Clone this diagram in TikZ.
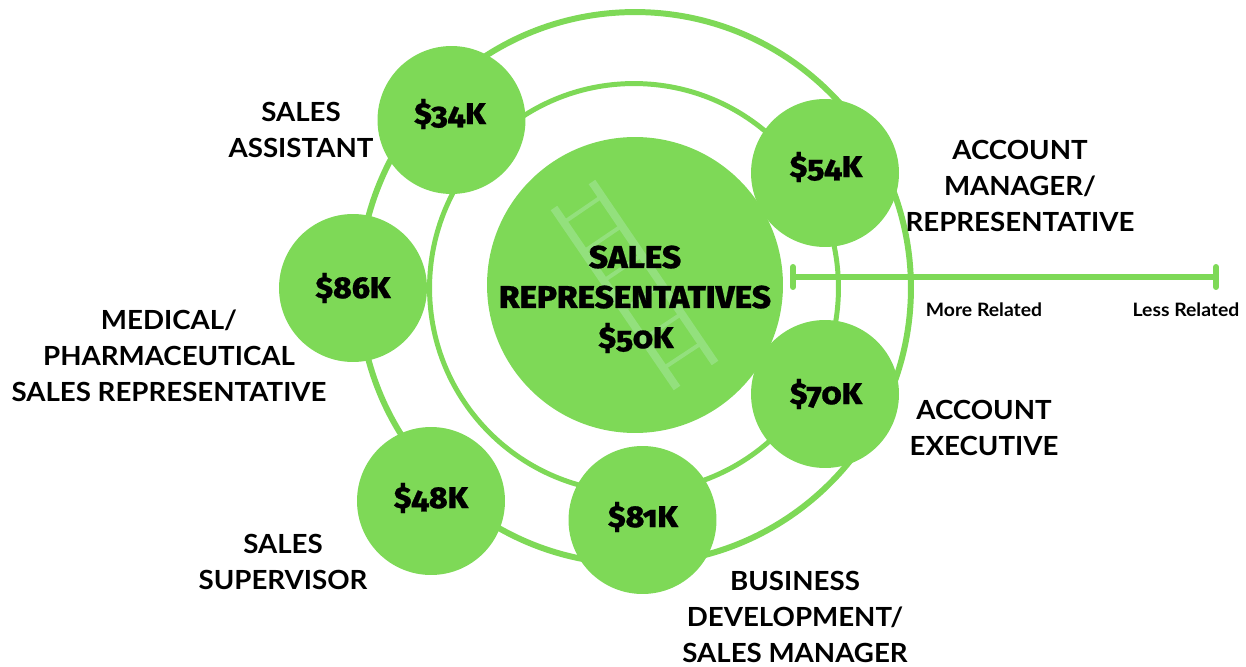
\documentclass[tikz,border=0pt]{standalone}
\usetikzlibrary{calc}
\usepackage{fontspec}
\setmainfont{Lato}[BoldFont={Lato Bold}]
\newfontfamily\blackfont{Fira Sans ExtraBold}[Numbers=OldStyle,FakeStretch=1.05,FakeBold=0.7]
\newfontfamily\labelfont{Lato Bold}[FakeStretch=1.05]
\definecolor{leaf}{HTML}{7ED957}
\definecolor{rung}{HTML}{93E07D}
\tikzset{x=0.02cm,y=-0.02cm,
  bub/.style={circle,fill=leaf,draw=none,minimum size=2.96cm,inner sep=0pt},
  hub/.style={circle,fill=leaf,draw=none,minimum size=5.92cm,inner sep=0pt},
  lab/.style={font=\labelfont\fontsize{15}{20.4}\selectfont,align=center,text=black,inner sep=0pt},
  sal/.style={font=\blackfont\fontsize{17.2}{20}\selectfont,text=black,inner sep=0pt},
  cen/.style={font=\blackfont\fontsize{18}{20}\selectfont,text=black,inner sep=0pt},
  small/.style={font=\labelfont\fontsize{10.5}{12}\selectfont,text=black,inner sep=0pt},
  railline/.style={draw=rung,line width=8*0.567pt},
  rungline/.style={draw=rung,line width=4*0.567pt},
  scalebar/.style={draw=leaf,line width=6*0.567pt},
  capline/.style={draw=leaf,line width=6*0.567pt,line cap=round}}
\begin{document}
\begin{tikzpicture}
\useasboundingbox (0,0) rectangle (1246,666);
\draw[draw=leaf,line width=6*0.567pt] (635,288) circle[radius=5.52cm];
\draw[draw=leaf,line width=5*0.567pt] (634,288) circle[radius=4.09cm];
\node[hub] (hub) at (635,285) {};
\coordinate (la) at (554,208); \coordinate (lb) at (677,388);
\coordinate (ra) at (592,182); \coordinate (rb) at (715,363);
\draw[railline] (la)--(lb);
\draw[railline] (ra)--(rb);
\foreach \t in {0.08,0.242,0.404,0.566,0.728,0.89}
  \draw[rungline] ($(la)!\t!(lb)$)--($(ra)!\t!(rb)$);
\node[bub] (b34) at (451.5,120) {};
\node[bub] (b54) at (825,173) {};
\node[bub] (b86) at (353,288) {};
\node[bub] (b70) at (825,394) {};
\node[bub] (b48) at (431,501) {};
\node[bub] (b81) at (642.5,520) {};
\node[sal] at (450,114) {\$34K};
\node[sal] at (826,167) {\$54K};
\node[sal] at (353,288) {\$86K};
\node[sal] at (826,394) {\$70K};
\node[sal] at (431,498) {\$48K};
\node[sal] at (643,517) {\$81K};
\node[cen] at (635,257) {SALES};
\node[cen] at (635,297) {REPRESENTATIVES};
\node[sal] at (636,338) {\$50K};
\node[lab] (l34) at (301,130) {SALES\\ASSISTANT};
\node[lab] (l54) at (1020,186) {ACCOUNT\\MANAGER/\\REPRESENTATIVE};
\node[lab] (l86) at (169,356) {MEDICAL/\\PHARMACEUTICAL\\SALES REPRESENTATIVE};
\node[lab] (l70) at (984,428) {ACCOUNT\\EXECUTIVE};
\node[lab] (l48) at (283,562) {SALES\\SUPERVISOR};
\node[lab] (l81) at (795,617) {BUSINESS\\DEVELOPMENT/\\SALES MANAGER};
\coordinate (sa) at (793,277); \coordinate (sb) at (1216,277);
\draw[scalebar] (sa)--(sb);
\draw[capline] ($(sa)+(0,-10)$)--($(sa)+(0,10)$);
\draw[capline] ($(sb)+(0,-10)$)--($(sb)+(0,10)$);
\node[small] (more) at (984,310) {More Related};
\node[small] (less) at (1186,310) {Less Related};
\end{tikzpicture}
\end{document}
